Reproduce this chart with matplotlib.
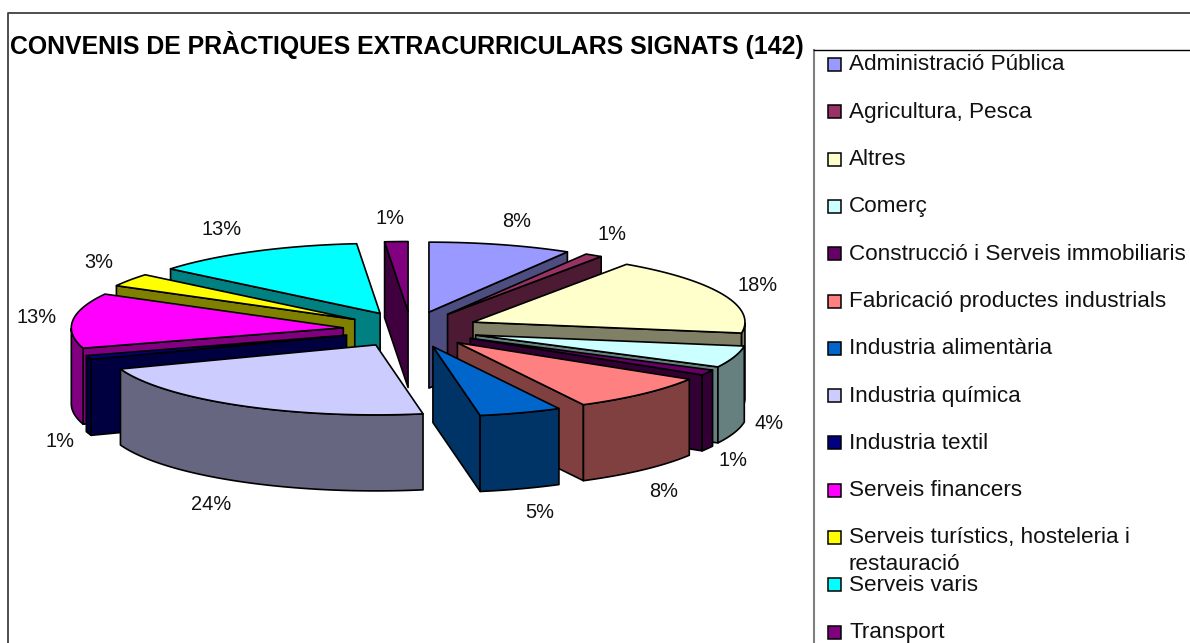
import numpy as np
import matplotlib
matplotlib.use("Agg")
import matplotlib.pyplot as plt
from matplotlib.patches import Polygon, Rectangle

title = "CONVENIS DE PRÀCTIQUES EXTRACURRICULARS SIGNATS (142)"
categories = ["Administració Pública", "Agricultura, Pesca", "Altres", "Comerç",
              "Construcció i Serveis immobiliaris", "Fabricació productes industrials",
              "Industria alimentària", "Industria química", "Industria textil",
              "Serveis financers", "Serveis turístics, hosteleria i\nrestauració",
              "Serveis varis", "Transport"]
percent = [8, 1, 18, 4, 1, 8, 5, 24, 1, 13, 3, 13, 1]
top_colors = ["#9999FF", "#993366", "#FFFFCC", "#CCFFFF", "#660066", "#FF8080", "#0066CC",
              "#CCCCFF", "#000080", "#FF00FF", "#FFFF00", "#00FFFF", "#800080"]
side_colors = ["#4D4D80", "#4D1A33", "#808066", "#668080", "#330033", "#804040", "#003366",
               "#666680", "#000040", "#800080", "#808000", "#008080", "#400040"]

# layout constants (pixels of the figure)
W, H = 1190, 643
CX, CY = 411, 329.5    # pie centre
RX, RY = 272, 70       # ellipse radii
EX, EY = 68, 18        # explosion
DEPTH = 76             # extrusion
label_pos = [(517, 220), (612, 233), (758, 284), (769, 422), (733, 459), (664, 490),
             (540, 511), (211, 503), (60, 440), (36.5, 316), (99, 261), (222, 228), (390, 217)]
# angular distortion caused by the perspective of the original 3-D chart (degrees)
WARP_AT = [0, 32, 90, 115, 144, 162, 180, 205, 248, 262, 350, 356, 360]
WARP_BY = [0, 2, 0, 6.3, 8.4, 8, 0, 6, 1.5, 0, 0, -1.5, 0]

plt.rcParams["font.family"] = ["Liberation Sans", "DejaVu Sans"]
fig = plt.figure(figsize=(W / 100, H / 100), dpi=100)
ax = fig.add_axes([0, 0, 1, 1])
ax.set_xlim(0, W)
ax.set_ylim(H, 0)
ax.axis("off")


def warp(t):
    t = np.asarray(t, float)
    return t + np.interp(t, WARP_AT, WARP_BY)


def rim(t, ox, oy):
    w = np.radians(warp(t))
    return np.column_stack([ox + RX * np.sin(w), oy - RY * np.cos(w)])


def poly(pts, fc, z):
    ax.add_patch(Polygon(pts, closed=True, facecolor=fc, edgecolor="black", lw=1.2,
                         joinstyle="round", zorder=z))


# frame
ax.plot([8, 8, W + 5], [H + 5, 13, 13], color="#404040", lw=1.3, zorder=1)

# pie
edges = np.cumsum([0] + percent) * 3.6
mids = (edges[:-1] + edges[1:]) / 2
order = sorted(range(len(percent)), key=lambda i: -np.cos(np.radians(mids[i])))
for rank, i in enumerate(order):
    a, b = edges[i], edges[i + 1]
    m = np.radians(warp(mids[i]))
    ox, oy = CX + EX * np.sin(m), CY - EY * np.cos(m)
    z = 2 + rank
    ts = np.linspace(a, b, 60)
    arc = rim(ts, ox, oy)
    drop = np.array([0, DEPTH])
    apex = np.array([ox, oy])
    # radial walls that face the viewer
    if np.sin(np.radians(a)) < -1e-9:
        poly([apex, arc[0], arc[0] + drop, apex + drop], side_colors[i], z)
    if np.sin(np.radians(b)) > 1e-9:
        poly([apex, arc[-1], arc[-1] + drop, apex + drop], side_colors[i], z)
    # outer wall, only where it faces the viewer
    fw = np.cos(np.radians(warp(ts))) < 0
    if fw.sum() > 1:
        seg = arc[fw]
        poly(np.vstack([seg, (seg + drop)[::-1]]), side_colors[i], z)
    # top
    poly(np.vstack([apex, arc]), top_colors[i], z)

# percentage labels
for v, (x, y) in zip(percent, label_pos):
    ax.text(x, y + 1.5, f"{v}%", fontsize=14.4, color="#111111", ha="center", va="center", zorder=30)

# legend
ax.add_patch(Rectangle((814, 50), W, H, facecolor="white", edgecolor="none", zorder=20))
ax.plot([814, 814], [H + 5, 50], color="#808080", lw=1.5, zorder=21)
ax.plot([814, W + 5], [50, 50], color="black", lw=1.0, zorder=21)
ax.text(10, 45, title, fontsize=17.95, fontweight="bold", va="center", ha="left", zorder=24)
for i, name in enumerate(categories):
    yc = 65 + 47.3 * i
    ax.add_patch(Rectangle((828, yc - 7), 13, 13, facecolor=top_colors[i], edgecolor="black",
                           lw=1.1, zorder=22))
    lines = name.split("\n")
    for j, line in enumerate(lines):
        ax.text(849, yc + 27 * j, line, fontsize=16.2, color="#111111", va="center", ha="left",
                zorder=23)

fig.savefig("out.png", dpi=100)
